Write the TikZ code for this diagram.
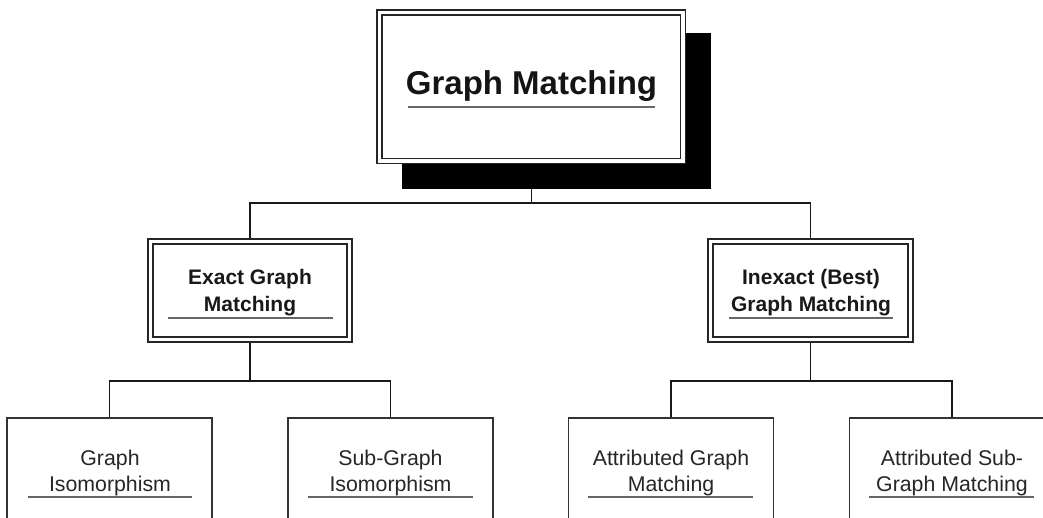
\documentclass[tikz,border=0pt]{standalone}
\usepackage{fontspec}
\setmainfont{Liberation Sans}
\usetikzlibrary{backgrounds}
\begin{document}
\begin{tikzpicture}[x=1pt,y=-1pt,
  frametwo/.style={draw=black!85, double=white, double distance=3.7pt, line width=1.3pt, fill=white, inner sep=0pt},
  plainbox/.style={draw=black!80, line width=1.4pt, fill=white, inner sep=0pt, minimum width=205pt, minimum height=140pt},
  conn/.style={draw=black!90, line width=1.4pt},
  uline/.style={draw=black!60, line width=2pt},
  bigtxt/.style={font=\bfseries\fontsize{33}{40}\selectfont, text=black!92, inner sep=0pt, anchor=base},
  midtxt/.style={font=\bfseries\fontsize{21}{26}\selectfont, text=black!90, inner sep=0pt, anchor=base},
  lowtxt/.style={font=\fontsize{21.3}{26}\selectfont, text=black!85, inner sep=0pt, anchor=base}]
\useasboundingbox (0,0) rectangle (1043,518);
\begin{scope}[on background layer]
\fill[white] (0,0) rectangle (1043,518);
\end{scope}

% top
\node[fill=black, minimum width=309pt, minimum height=156pt, inner sep=0pt] (shadow) at (556.5,111) {};
\node[frametwo, minimum width=303.5pt, minimum height=148.5pt] (top) at (531.25,86.75) {};
\node[bigtxt] (ttop) at (531.5,95) {Graph Matching};
\draw[uline, line width=2.4pt] (408,107) -- (655,107);

% middle
\node[frametwo, minimum width=199pt, minimum height=98pt] (ml) at (250,290.5) {};
\node[frametwo, minimum width=200pt, minimum height=98pt] (mr) at (810.5,290.5) {};
\node[midtxt] (mla) at (250,285) {Exact Graph};
\node[midtxt] (mlb) at (250,312) {Matching};
\node[midtxt] (mra) at (811,285) {Inexact (Best)};
\node[midtxt] (mrb) at (811,312) {Graph Matching};
\draw[uline] (168,318) -- (333,318);
\draw[uline] (729,318) -- (893,318);

% bottom
\node[plainbox] (b1) at (109.5,488) {};
\node[plainbox] (b2) at (390.5,488) {};
\node[plainbox] (b3) at (671,488) {};
\node[plainbox] (b4) at (952,488) {};
\node[lowtxt] (b1a) at (110,465) {Graph};
\node[lowtxt] (b1b) at (110,491) {Isomorphism};
\node[lowtxt] (b2a) at (390.5,465) {Sub-Graph};
\node[lowtxt] (b2b) at (390.5,491) {Isomorphism};
\node[lowtxt] (b3a) at (671,465) {Attributed Graph};
\node[lowtxt] (b3b) at (671,491) {Matching};
\node[lowtxt] (b4a) at (952,465) {Attributed Sub-};
\node[lowtxt] (b4b) at (952,491) {Graph Matching};
\draw[uline] (28,497) -- (192,497);
\draw[uline] (308,497) -- (473,497);
\draw[uline] (588,497) -- (753,497);
\draw[uline] (869,497) -- (1034,497);

% connectors
\coordinate (j0) at (top.south |- 0,203);
\coordinate (j1) at (ml.south |- 0,381);
\coordinate (j2) at (mr.south |- 0,381);
\begin{scope}[on background layer]
\draw[conn] (top.south |- shadow.south) -- (j0);
\draw[conn] (ml.north) |- (j0) -| (mr.north);
\draw[conn] (ml.south) -- (j1);
\draw[conn] (mr.south) -- (j2);
\draw[conn] (b1.north) |- (j1) -| (b2.north);
\draw[conn] (b3.north) |- (j2) -| (b4.north);
\end{scope}
\end{tikzpicture}
\end{document}
